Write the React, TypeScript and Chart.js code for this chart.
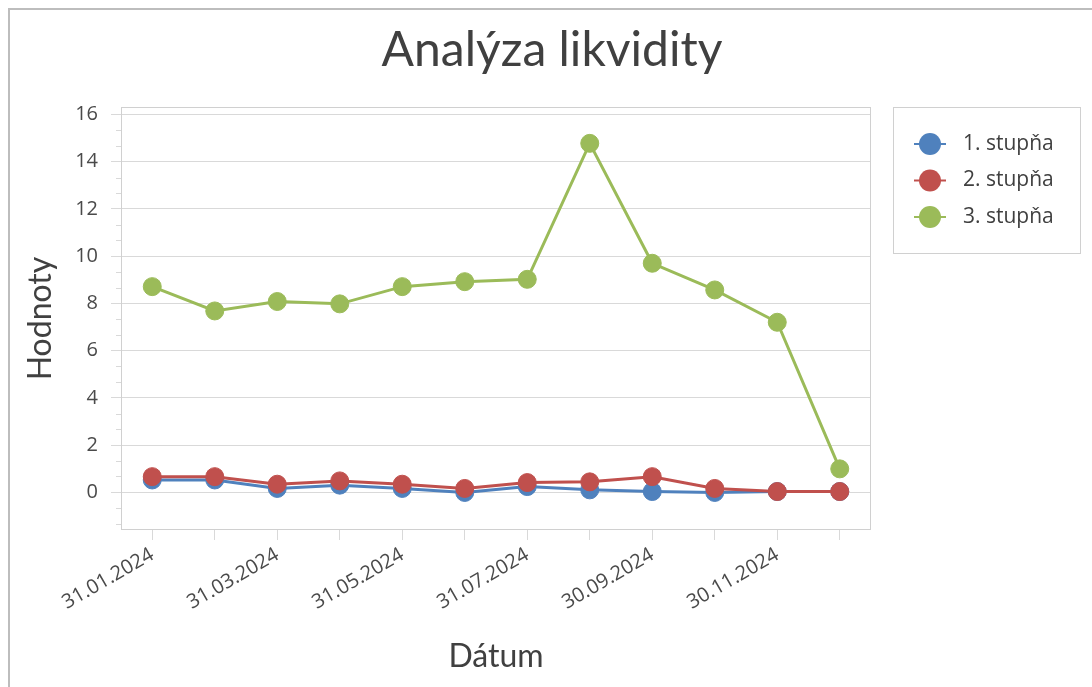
import React, { useEffect, useRef } from "react";
import { Chart, registerables } from "chart.js";

Chart.register(...registerables);

const chartTitle = "Analýza likvidity";
const xTitle = "Dátum";
const yTitle = "Hodnoty";
const categories = [
  "31.01.2024", "29.02.2024", "31.03.2024", "30.04.2024", "31.05.2024", "30.06.2024",
  "31.07.2024", "31.08.2024", "30.09.2024", "31.10.2024", "30.11.2024", "31.12.2024",
];
const seriesNames = ["1. stupňa", "2. stupňa", "3. stupňa"];
const stupen1 = [0.52, 0.52, 0.16, 0.30, 0.16, -0.01, 0.24, 0.10, 0.03, -0.01, 0.03, 0.03];
const stupen2 = [0.66, 0.66, 0.34, 0.48, 0.34, 0.16, 0.41, 0.44, 0.66, 0.16, 0.03, 0.03];
const stupen3 = [8.71, 7.68, 8.08, 7.98, 8.71, 8.92, 9.02, 14.78, 9.70, 8.57, 7.20, 0.99];
const seriesColors = ["#4f81bd", "#c0504d", "#9bbb59"];
const yTickValues = [0, 2, 4, 6, 8, 10, 12, 14, 16];
const yMin = -1.6;
const yMax = 16.32;
const yMinorStep = 2 / 3;

const FONT = "'Open Sans', 'Noto Sans', sans-serif";
const TITLE_FONT = "Lato, 'Open Sans', sans-serif";
const TEXT = "#404040";
const TICK_TEXT = "#4a4a4a";
const GRID = "#d9d9d9";

const framePlugin = {
  id: "framePlugin",
  afterDraw(chart: any) {
    const { ctx, chartArea } = chart;
    const yScale = chart.scales.y;
    ctx.save();
    // chart title
    ctx.fillStyle = TEXT;
    ctx.font = `48px ${TITLE_FONT}`;
    ctx.textAlign = "center";
    ctx.textBaseline = "middle";
    ctx.fillText(chartTitle, chart.width / 2 + 6, 51);
    // plot border
    ctx.strokeStyle = "#d0d0d0";
    ctx.lineWidth = 1;
    ctx.strokeRect(chartArea.left + 0.5, chartArea.top + 0.5, chartArea.right - chartArea.left - 1, chartArea.bottom - chartArea.top - 1);
    // minor ticks on y
    ctx.strokeStyle = GRID;
    for (let k = Math.ceil(yMin / yMinorStep); k * yMinorStep <= yMax; k++) {
      if (k % 3 === 0) continue;
      const py = Math.round(yScale.getPixelForValue(k * yMinorStep)) + 0.5;
      ctx.beginPath();
      ctx.moveTo(chartArea.left - 5, py);
      ctx.lineTo(chartArea.left, py);
      ctx.stroke();
    }
    // legend
    const left = chartArea.right + 22;
    const top = chartArea.top;
    const w = 187;
    const h = 146;
    ctx.strokeStyle = "#d0d0d0";
    ctx.strokeRect(left + 0.5, top + 0.5, w, h);
    chart.data.datasets.forEach((ds: any, i: number) => {
      const cy = top + 37 + i * 36.5;
      ctx.strokeStyle = ds.borderColor;
      ctx.lineWidth = 2;
      ctx.beginPath();
      ctx.moveTo(left + 21, cy);
      ctx.lineTo(left + 53, cy);
      ctx.stroke();
      ctx.fillStyle = ds.borderColor;
      ctx.beginPath();
      ctx.arc(left + 37, cy, 11, 0, Math.PI * 2);
      ctx.fill();
      ctx.fillStyle = TEXT;
      ctx.font = `21px ${FONT}`;
      ctx.textBaseline = "middle";
      ctx.textAlign = "left";
      ctx.fillText(ds.label, left + 70, cy);
    });
    ctx.restore();
  },
};

export default function App() {
  const canvasRef = useRef<HTMLCanvasElement | null>(null);

  useEffect(() => {
    const canvas = canvasRef.current;
    if (!canvas) return;
    const values = [stupen1, stupen2, stupen3];
    const orders = [2, 1, 0];
    const chart = new Chart(canvas, {
      type: "line",
      data: {
        labels: categories,
        datasets: values.map((v, i) => ({
          label: seriesNames[i],
          data: v,
          borderColor: seriesColors[i],
          backgroundColor: seriesColors[i],
          pointBackgroundColor: seriesColors[i],
          pointBorderColor: seriesColors[i],
          pointRadius: 9,
          pointBorderWidth: 1,
          borderWidth: 3,
          tension: 0,
          order: orders[i],
        })),
      },
      options: {
        responsive: false,
        animation: false,
        layout: { padding: { left: 0, right: 221, top: 107, bottom: 0 } },
        plugins: {
          legend: { display: false },
          tooltip: { enabled: false },
          title: { display: false },
        },
        scales: {
          x: {
            type: "category",
            offset: true,
            grid: { drawOnChartArea: false, drawTicks: true, tickLength: 10, color: GRID },
            border: { display: false },
            ticks: {
              autoSkip: false,
              minRotation: 30,
              maxRotation: 30,
              padding: 3,
              color: TICK_TEXT,
              font: { family: FONT, size: 20 },
              callback: (_v: any, idx: number) => (idx % 2 === 0 ? categories[idx] : ""),
            },
            title: {
              display: true,
              text: xTitle,
              color: TEXT,
              font: { family: TITLE_FONT, size: 32, lineHeight: 1.2 },
              padding: { top: 0, bottom: 11 },
            },
            afterFit: (scale: any) => {
              scale.height = 157;
            },
          },
          y: {
            min: yMin,
            max: yMax,
            grid: { color: GRID, tickLength: 10, drawTicks: true },
            border: { display: false },
            ticks: {
              padding: 13,
              color: TICK_TEXT,
              font: { family: FONT, size: 20 },
            },
            afterBuildTicks: (scale: any) => {
              scale.ticks = yTickValues.map((v) => ({ value: v }));
            },
            title: {
              display: true,
              text: yTitle,
              color: TEXT,
              font: { family: TITLE_FONT, size: 32, lineHeight: 1.2 },
              padding: { top: 21, bottom: 0 },
            },
            afterFit: (scale: any) => {
              scale.width = 121;
            },
          },
        },
      },
      plugins: [framePlugin],
    } as any);
    return () => chart.destroy();
  }, []);

  return (
    <div style={{ position: "fixed", left: 0, top: 0, width: 1092, height: 687, background: "#ffffff" }}>
      <canvas ref={canvasRef} width={1092} height={687} style={{ position: "absolute", left: 0, top: 0 }} />
      <div
        style={{
          position: "absolute",
          left: 8,
          top: 8,
          width: 1084,
          height: 679,
          borderTop: "2px solid #bdbdbd",
          borderLeft: "2px solid #bdbdbd",
          boxSizing: "border-box",
          pointerEvents: "none",
        }}
      />
    </div>
  );
}
